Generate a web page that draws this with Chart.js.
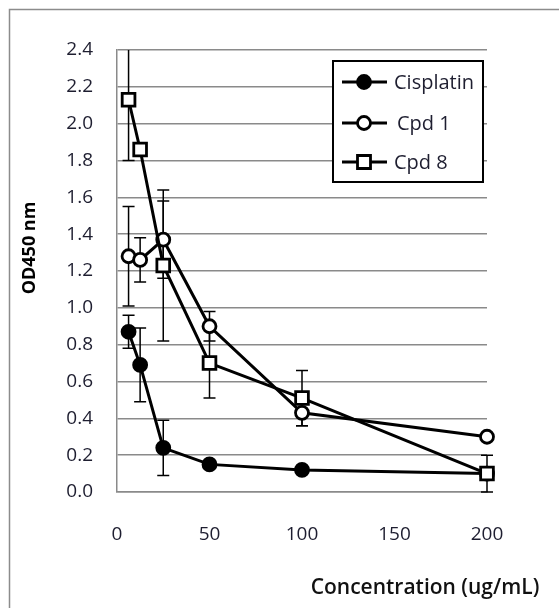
<!DOCTYPE html>
<html>
<head>
<meta charset="utf-8">
<script src="https://cdn.jsdelivr.net/npm/chart.js@4.4.1/dist/chart.umd.min.js"></script>
<style>
  html, body { margin: 0; padding: 0; background: #fff; }
  #wrap { width: 559px; height: 608px; position: relative; }
</style>
</head>
<body>
<div id="wrap"><canvas id="mycanvas" width="559" height="608"></canvas></div>
<script>
// concentrations (ug/mL)
var concentration = [6.25, 12.5, 25, 50, 100, 200];

var cisplatin    = [0.87, 0.69, 0.24, 0.15, 0.12, 0.10];
var cisplatinErr = [0.09, 0.20, 0.15, 0.01, 0.01, 0.01];

var cpd1    = [1.28, 1.26, 1.37, 0.90, 0.43, 0.30];
var cpd1Err = [0.27, 0.12, 0.21, 0.08, 0.07, 0.01];

var cpd8    = [2.13, 1.86, 1.23, 0.70, 0.51, 0.10];
var cpd8Err = [0.33, 0.01, 0.41, 0.19, 0.15, 0.10];

var yTicks = [0, 0.2, 0.4, 0.6, 0.8, 1.0, 1.2, 1.4, 1.6, 1.8, 2.0, 2.2, 2.4];
var xTicks = [0, 50, 100, 150, 200];

var FONT = "'Open Sans', sans-serif";
var gridColor = '#8a8a8a';
var textColor = '#1e1e30';

function points(vals) {
    var out = [];
    for (var i in vals) {
        out.push({ x: concentration[i], y: vals[i] });
    }
    return out;
}

// error bars, drawn under the lines/markers
var errorBars = {
    id: 'errorBars',
    beforeDatasetsDraw: function (chart) {
        var ctx = chart.ctx, ca = chart.chartArea;
        var xs = chart.scales.x, ys = chart.scales.y;
        ctx.save();
        ctx.beginPath();
        ctx.rect(ca.left - 10, ca.top, ca.width + 20, ca.height + 2);
        ctx.clip();
        ctx.strokeStyle = '#000';
        ctx.lineWidth = 1.5;
        chart.data.datasets.forEach(function (ds) {
            ds.errors.forEach(function (e, i) {
                var px = xs.getPixelForValue(ds.data[i].x);
                var top = ys.getPixelForValue(ds.data[i].y + e);
                var bot = ys.getPixelForValue(ds.data[i].y - e);
                ctx.beginPath();
                ctx.moveTo(px, top); ctx.lineTo(px, bot);
                ctx.moveTo(px - 6, top); ctx.lineTo(px + 6, top);
                ctx.moveTo(px - 6, bot); ctx.lineTo(px + 6, bot);
                ctx.stroke();
            });
        });
        ctx.restore();
    }
};

function marker(ctx, style, filled, x, y) {
    ctx.beginPath();
    if (style === 'rect') {
        ctx.rect(x - 6.5, y - 6.5, 13, 13);
    } else {
        ctx.arc(x, y, 6.5, 0, Math.PI * 2);
    }
    ctx.fillStyle = filled ? '#000' : '#fff';
    ctx.fill();
    ctx.lineWidth = 2.8;
    ctx.strokeStyle = '#000';
    ctx.stroke();
}

// frame, axis titles, legend box
var decorations = {
    id: 'decorations',
    beforeDraw: function (chart) {
        var ctx = chart.ctx;
        ctx.save();
        ctx.fillStyle = '#fff';
        ctx.fillRect(0, 0, chart.width, chart.height);
        ctx.strokeStyle = '#8c8c8c';
        ctx.lineWidth = 1.5;
        ctx.strokeRect(9.5, 9.5, 700, 800);
        ctx.restore();
    },
    afterDatasetsDraw: function (chart) {
        var ctx = chart.ctx, ca = chart.chartArea;
        ctx.save();
        // y title
        ctx.fillStyle = '#000';
        ctx.font = 'bold 18px ' + FONT;
        ctx.textAlign = 'center';
        ctx.textBaseline = 'middle';
        ctx.translate(30, 248);
        ctx.rotate(-Math.PI / 2);
        ctx.fillText('OD450 nm', 0, 0);
        ctx.restore();

        ctx.save();
        ctx.fillStyle = '#111';
        ctx.font = '600 21px ' + FONT;
        ctx.textAlign = 'center';
        ctx.textBaseline = 'middle';
        ctx.fillText('Concentration (ug/mL)', 425, 588);
        ctx.restore();

        // legend
        var bx = ca.right - 154, by = ca.top + 11, bw = 150, bh = 121;
        ctx.save();
        ctx.fillStyle = '#fff';
        ctx.fillRect(bx, by, bw, bh);
        ctx.strokeStyle = '#000';
        ctx.lineWidth = 2;
        ctx.strokeRect(bx, by, bw, bh);
        var rows = [21, 62, 101];
        chart.data.datasets.forEach(function (ds, i) {
            var y = by + rows[i];
            ctx.beginPath();
            ctx.moveTo(bx + 9, y); ctx.lineTo(bx + 54, y);
            ctx.lineWidth = 3;
            ctx.strokeStyle = '#000';
            ctx.stroke();
            marker(ctx, ds.pointStyle, ds.pointBackgroundColor === '#000', bx + 31, y);
            ctx.fillStyle = textColor;
            ctx.font = '20px ' + FONT;
            ctx.textAlign = 'left';
            ctx.textBaseline = 'middle';
            ctx.fillText(ds.label, bx + (i === 1 ? 64 : 61), y + 1);
        });
        ctx.restore();
    }
};

function series(label, vals, errs, style, fill, radius, order) {
    return {
        label: label,
        data: points(vals),
        errors: errs,
        order: order,
        borderColor: '#000',
        borderWidth: 3,
        pointStyle: style,
        pointRadius: radius,
        pointHoverRadius: radius,
        pointBackgroundColor: fill,
        pointBorderColor: '#000',
        pointBorderWidth: 2.8,
        tension: 0,
        clip: false
    };
}

var chartdata = {
    datasets: [
        series('Cisplatin', cisplatin, cisplatinErr, 'circle', '#000', 6.5, 3),
        series('Cpd 1', cpd1, cpd1Err, 'circle', '#fff', 6.5, 2),
        series('Cpd 8', cpd8, cpd8Err, 'rect', '#fff', 9, 1)
    ]
};

var graphTarget = document.getElementById('mycanvas');

var lineGraph = new Chart(graphTarget, {
    type: 'line',
    data: chartdata,
    plugins: [decorations, errorBars],
    options: {
        responsive: false,
        animation: false,
        events: [],
        layout: { padding: { left: 0, right: 72, top: 50, bottom: 0 } },
        plugins: { legend: { display: false }, tooltip: { enabled: false } },
        scales: {
            x: {
                type: 'linear',
                min: 0,
                max: 200,
                afterFit: function (s) { s.height = 116; },
                afterBuildTicks: function (s) {
                    s.ticks = xTicks.map(function (v) { return { value: v }; });
                },
                grid: { display: false, drawTicks: false },
                border: { display: true, color: gridColor, width: 1.5 },
                ticks: { padding: 31, color: textColor, font: { family: FONT, size: 19 } }
            },
            y: {
                min: 0,
                max: 2.4,
                afterFit: function (s) { s.width = 117; },
                afterBuildTicks: function (s) {
                    s.ticks = yTicks.map(function (v) { return { value: v }; });
                },
                grid: { color: gridColor, lineWidth: 1.5, drawTicks: false },
                border: { display: true, color: gridColor, width: 1.5 },
                ticks: {
                    padding: 24,
                    color: textColor,
                    font: { family: FONT, size: 19 },
                    callback: function (v) { return v.toFixed(1); }
                }
            }
        }
    }
});
</script>
</body>
</html>
